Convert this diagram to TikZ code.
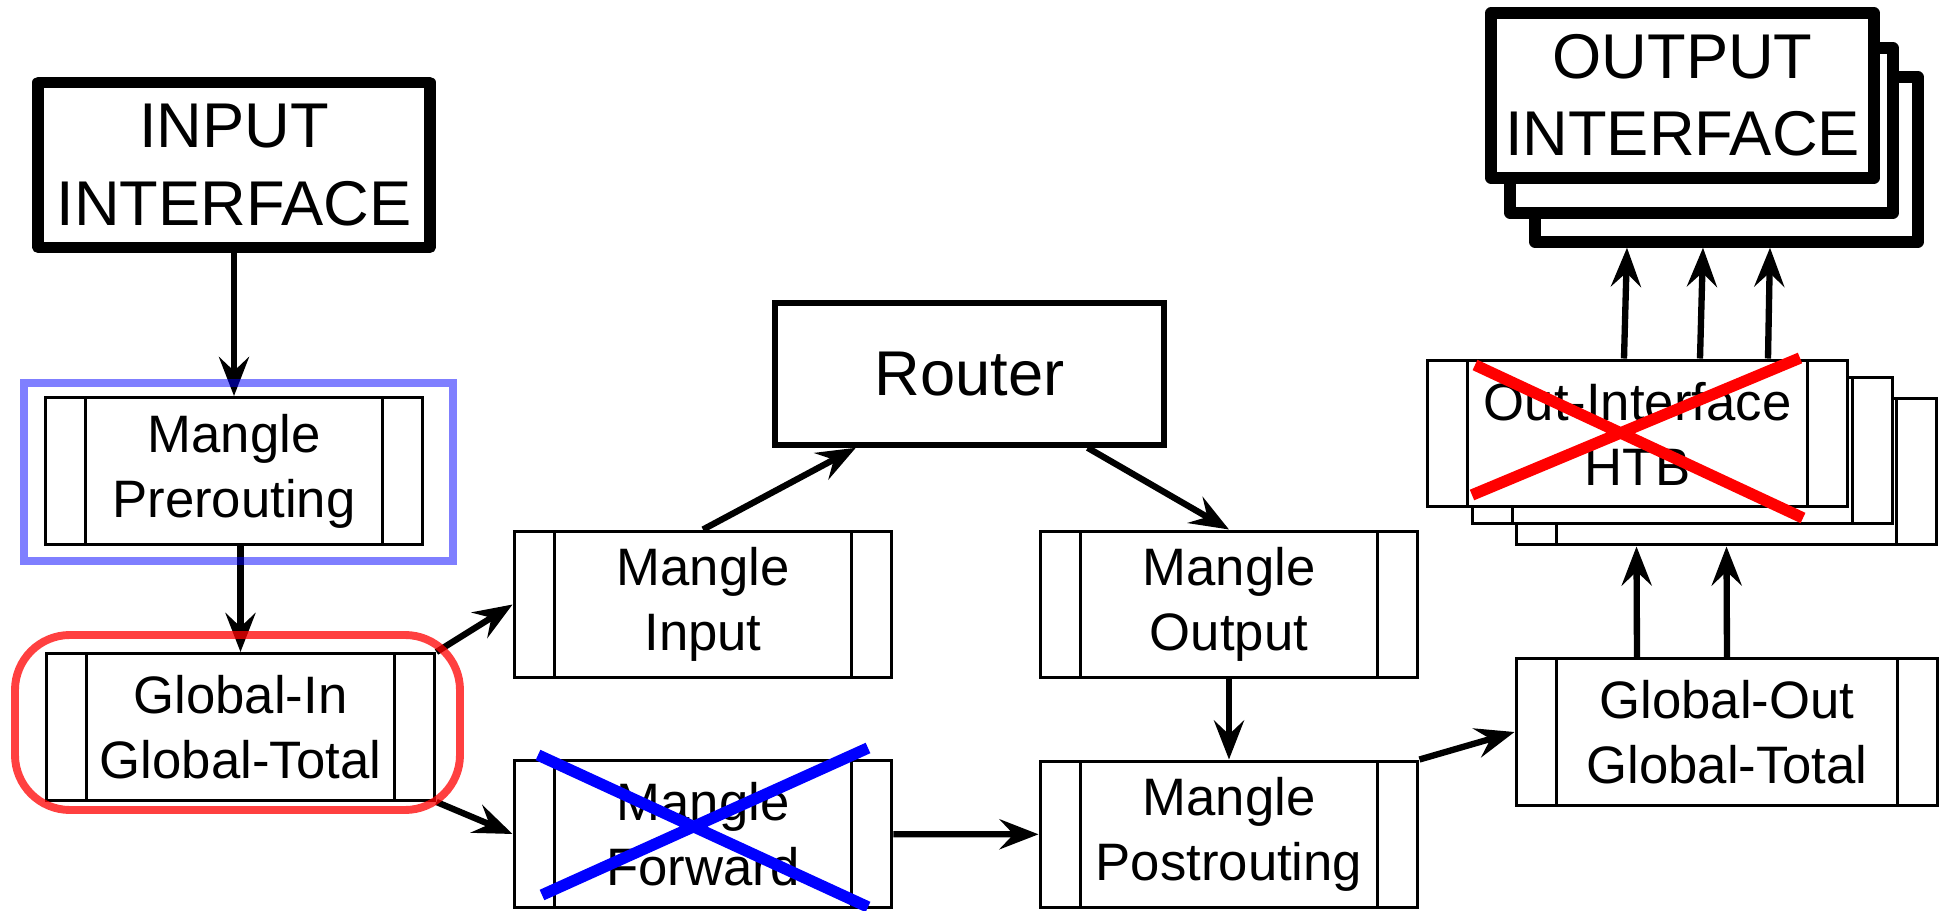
\documentclass[tikz,border=0pt]{standalone}
\usepackage{fontspec}
\setmainfont{Liberation Sans}
\usetikzlibrary{
  arrows.meta,
  calc
}

\newcommand\stagefont{\fontsize{30}{37}\selectfont}
\newcommand\portfont{\fontsize{36}{44}\selectfont}

\tikzset{
  stage/.style={draw, fill=white, line width=1.7pt, font=\stagefont,
    align=center, minimum width=#1, minimum height=2.94cm, inner sep=0pt,
    path picture={
      \draw[line width=1.7pt]
        ([xshift=0.8cm]path picture bounding box.north west) --
        ([xshift=0.8cm]path picture bounding box.south west)
        ([xshift=-0.8cm]path picture bounding box.north east) --
        ([xshift=-0.8cm]path picture bounding box.south east);}},
  stage/.default=7.56cm,
  port/.style={draw, fill=white, line width=6.5pt, line join=round,
    font=\portfont, align=center, minimum width=#1,
    minimum height=3.3cm, inner sep=0pt},
  flow/.style={-{Stealth[length=0.78cm, width=0.6cm, inset=0.28cm]},
    line width=3.6pt}
}

\begin{document}
\begin{tikzpicture}[x=0.02cm, y=-0.02cm]
  \useasboundingbox (0,0) rectangle (1952,911);

  \node[port=7.84cm] (inif) at (234,165) {INPUT\\INTERFACE};
  \node[stage] (pre) at (234,471) {Mangle\\Prerouting};
  \node[stage=7.78cm] (gin) at (240.5,727) {Global-In\\Global-Total};

  \node[draw, line width=3.2pt, minimum width=7.78cm, minimum height=2.84cm,
    font=\portfont] (router) at (969.5,374) {Router};
  \node[stage] (min) at (703,604.5) {Mangle\\Input};
  \node[stage] (mfwd) at (703,834) {Mangle\\Forward};
  \node[stage] (mout) at (1229,604.5) {Mangle\\Output};
  \node[stage] (post) at (1229,834.5) {Mangle\\Postrouting};

  \node[stage=8.44cm] (gout) at (1727,732) {Global-Out\\Global-Total};
  \node[stage=8.42cm] (oif3) at (1726.5,471.5) {};
  \node[stage=8.42cm] (oif2) at (1682.5,450.5) {};
  \node[stage=8.42cm] (oif) at (1637.5,433.5) {Out-Interface\\HTB};

  \node[port=7.66cm] (outif3) at (1726.5,159.5) {};
  \node[port=7.66cm] (outif2) at (1701.5,130.5) {};
  \node[port=7.66cm] (outif) at (1682.5,95.5) {OUTPUT\\INTERFACE};

  \draw[flow] (inif) -- (pre);
  \draw[flow] (pre.south -| gin) -- (gin);
  \draw[flow] (gin.north east) -- (min.west);
  \draw[flow] (gin.south east) -- (mfwd.west);
  \draw[flow] (min.north) -- (router.213);
  \draw[flow] (router.328) -- (mout.north);
  \draw[flow] (mout) -- (post);
  \draw[flow] (mfwd) -- (post);
  \draw[flow] (post.north east) -- (gout.west);
  \foreach \dx in {-90,0}
    \draw[flow] ($(gout.north)+(\dx,0)$) -- ($(oif3.south)+(\dx,0)$);
  \foreach \a/\b in {-13.5/-99.5, 62.5/-23.5, 130.5/43.5}
    \draw[flow] ($(oif.north)+(\a,0)$) -- ($(outif3.south)+(\b,0)$);

  \draw[blue, line width=6.5pt] (538,755) -- (868,907) (542,895) -- (868,748);
  \draw[red, line width=6.5pt] (1475,365) -- (1803,518) (1472,495) -- (1800,358);

  \draw[blue, opacity=0.5, line width=4pt] (24,383) rectangle (453,561);
  \draw[red, opacity=0.75, line width=4.5pt, rounded corners=1.1cm]
    (15,635) rectangle (460,810);
\end{tikzpicture}
\end{document}
